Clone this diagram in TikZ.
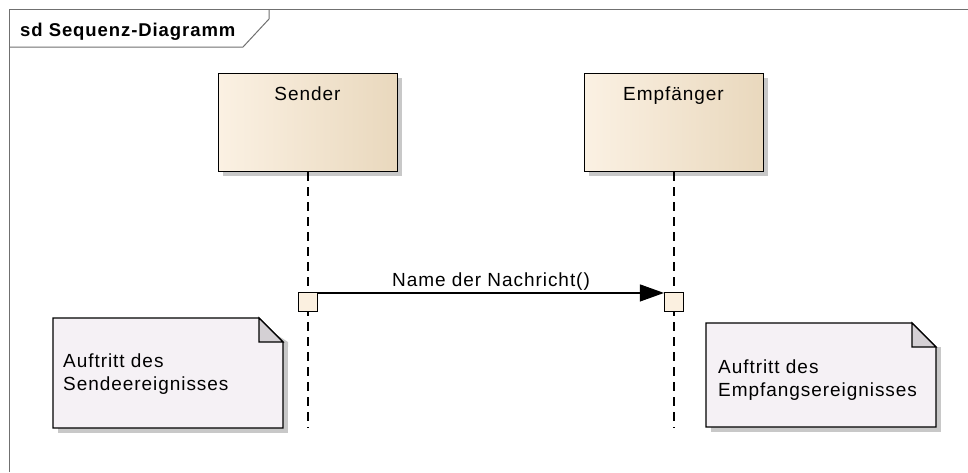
\documentclass[tikz,border=0pt]{standalone}
\usepackage{fontspec}
\setmainfont{Liberation Sans}
\newfontfamily\eafont[LetterSpace=5]{Liberation Sans}
\usetikzlibrary{arrows.meta}
\definecolor{frameline}{HTML}{707070}
\definecolor{boxleft}{HTML}{FBF1E3}
\definecolor{boxright}{HTML}{E9D8BD}
\definecolor{actfill}{HTML}{FBF0E0}
\definecolor{notefill}{HTML}{F5F1F5}
\definecolor{foldfill}{HTML}{D4D0D4}
\definecolor{shadowgray}{HTML}{C8C8C8}
\tikzset{
  eatext/.style={font=\eafont\fontsize{19pt}{22.5pt}\selectfont, inner sep=0pt},
  lifebox/.style={draw=black, line width=1.2pt, left color=boxleft, right color=boxright,
    minimum width=179pt, minimum height=98pt, anchor=north west, inner sep=0pt},
  lifeline/.style={draw=black, line width=1.3pt, dash pattern=on 9pt off 6pt},
  actbox/.style={draw=black, line width=1.1pt, fill=actfill, minimum width=19pt, minimum height=19pt, inner sep=0pt},
  msg/.style={draw=black, line width=1.1pt, -{Triangle[length=24pt,width=17pt]}},
  notetext/.style={eatext, align=left, anchor=north west},
  shadow/.style={fill=shadowgray, draw=none},
}
\begin{document}
\begin{tikzpicture}[x=1pt,y=-1pt]
\useasboundingbox (0,0) rectangle (968,472);
\fill[white] (0,0) rectangle (968,472);

% frame with its name tab
\draw[frameline, line width=1pt] (9,472) -- (9,9) -- (968,9);
\draw[frameline, line width=1pt] (9,47) -- (243,47) -- (269,19) -- (269,9);
\node[eatext, font=\eafont\bfseries\fontsize{18.5pt}{22pt}\selectfont, anchor=base west] (title) at (20,36) {sd Sequenz-Diagramm};

% lifeline heads
\fill[shadow] (223,78) rectangle (402,176);
\fill[shadow] (589,78) rectangle (768,176);
\node[lifebox] (sender) at (218,73) {};
\node[lifebox] (empf) at (584,73) {};
\node[eatext, anchor=base] (sendertxt) at (307.5,100) {Sender};
\node[eatext, anchor=base] (empftxt) at (673.5,100) {Empfänger};

% lifelines
\coordinate (sEnd) at (308,428);
\coordinate (eEnd) at (674,428);
\draw[lifeline] (sender.south -| sEnd) -- (sEnd);
\draw[lifeline] (empf.south -| eEnd) -- (eEnd);

% execution occurrences
\node[actbox] (sact) at (308,302) {};
\node[actbox] (eact) at (674,302) {};

% message
\draw[msg] (sact.north east) ++(0,1) coordinate (mstart) -- (eact.north west |- mstart);
\node[eatext, anchor=base] (msglabel) at (491,286) {Name der Nachricht()};

% note: send event
\fill[shadow] (58,342) rectangle (288,433);
\fill[shadow] (258,323) -- (288,347) -- (288,342) -- cycle;
\draw[line width=1.2pt, fill=notefill] (53,318) -- (259,318) -- (283,342) -- (283,428) -- (53,428) -- cycle;
\draw[line width=1.2pt, fill=foldfill] (259,318) -- (259,342) -- (283,342) -- cycle;
\node[notetext] (note1) at (63,354) {Auftritt des\\Sendeereignisses};

% note: receive event
\fill[shadow] (711,347) rectangle (941,432);
\draw[line width=1.2pt, fill=notefill] (706,323) -- (912,323) -- (936,347) -- (936,427) -- (706,427) -- cycle;
\draw[line width=1.2pt, fill=foldfill] (912,323) -- (912,347) -- (936,347) -- cycle;
\node[notetext] (note2) at (718,360) {Auftritt des\\Empfangsereignisses};
\end{tikzpicture}
\end{document}
